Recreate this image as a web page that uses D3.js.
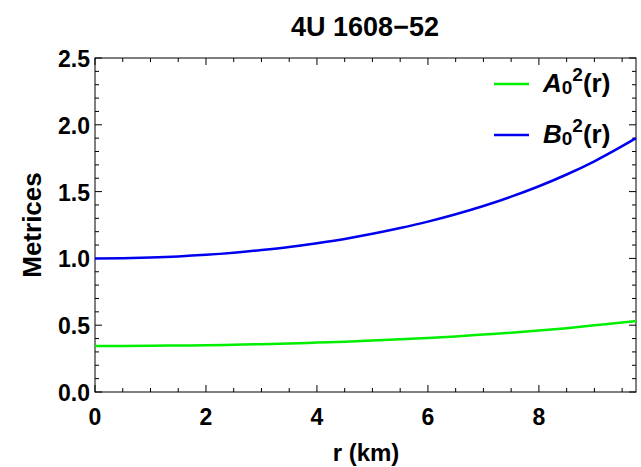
<!DOCTYPE html>
<meta charset="utf-8">
<style>
    body { margin: 0; background: #fff; }
    text { font-family: "Liberation Sans", Arial, sans-serif; font-weight: bold; fill: #000; }
    .frame { fill: none; stroke: #000; stroke-width: 1; }
    .tick line { stroke: #000; }
</style>
<svg width="641" height="467"></svg>
<script src="https://d3js.org/d3.v7.min.js"></script>
<script>
    // values
    var radius = [0, 0.5, 1, 1.5, 2, 2.5, 3, 3.5, 4, 4.5, 5, 5.5, 6, 6.5, 7, 7.5, 8, 8.5, 9, 9.5, 9.75];
    var metricA = [0.344, 0.345, 0.346, 0.348, 0.350, 0.354, 0.358, 0.363, 0.370, 0.377, 0.385, 0.394, 0.404, 0.416, 0.430, 0.444, 0.460, 0.478, 0.499, 0.520, 0.530];
    var metricB = [1.000, 1.002, 1.007, 1.015, 1.027, 1.043, 1.063, 1.086, 1.114, 1.146, 1.184, 1.227, 1.275, 1.330, 1.392, 1.462, 1.540, 1.628, 1.727, 1.840, 1.900];
    var xTicks = [0, 2, 4, 6, 8];
    var yTicks = [0, 0.5, 1, 1.5, 2, 2.5];

    var svg = d3.select("svg");
    var pLeft = 95, pRight = 636, pTop = 58, pBottom = 392;

    var x = d3.scaleLinear().domain([0, 9.75]).range([pLeft, pRight]);
    var y = d3.scaleLinear().domain([0, 2.5]).range([pBottom, pTop]);

    var xMinor = d3.range(0, 9.76, 0.5).filter(function(v) { return xTicks.indexOf(v) < 0; });
    var yMinor = d3.range(0, 2.51, 0.1).map(function(v) { return +v.toFixed(1); })
        .filter(function(v) { return Math.round(v * 10) % 5 != 0; });

    // ticks pointing inward on all four sides
    function ticks(g, scale, vals, len, side) {
        vals.forEach(function(v) {
            var p = scale(v);
            if (side == "bottom") g.append("line").attr("x1", p).attr("x2", p).attr("y1", pBottom).attr("y2", pBottom - len);
            if (side == "top") g.append("line").attr("x1", p).attr("x2", p).attr("y1", pTop).attr("y2", pTop + len);
            if (side == "left") g.append("line").attr("y1", p).attr("y2", p).attr("x1", pLeft).attr("x2", pLeft + len);
            if (side == "right") g.append("line").attr("y1", p).attr("y2", p).attr("x1", pRight).attr("x2", pRight - len);
        });
    }
    var tg = svg.append("g").attr("class", "tick").attr("stroke", "#000").attr("stroke-width", 1);
    ["bottom", "top"].forEach(function(s) {
        ticks(tg, x, xTicks, 7, s);
        ticks(tg, x, xMinor, 4, s);
    });
    ["left", "right"].forEach(function(s) {
        ticks(tg, y, yTicks, 7, s);
        ticks(tg, y, yMinor, 4, s);
    });

    svg.append("rect").attr("class", "frame")
        .attr("x", pLeft).attr("y", pTop)
        .attr("width", pRight - pLeft).attr("height", pBottom - pTop);

    // tick labels
    svg.append("g").selectAll("text").data(xTicks).enter().append("text")
        .attr("x", function(d) { return x(d); })
        .attr("y", 425)
        .attr("text-anchor", "middle")
        .attr("font-size", 23)
        .text(function(d) { return d; });

    svg.append("g").selectAll("text").data(yTicks).enter().append("text")
        .attr("x", 90)
        .attr("y", function(d) { return y(d) + 9; })
        .attr("text-anchor", "end")
        .attr("font-size", 23)
        .text(function(d) { return d.toFixed(1); });

    // curves
    var line = d3.line()
        .x(function(d, i) { return x(radius[i]); })
        .y(function(d) { return y(d); })
        .curve(d3.curveMonotoneX);

    svg.append("path").attr("d", line(metricA))
        .attr("fill", "none").attr("stroke", "#00ee00").attr("stroke-width", 2.5);
    svg.append("path").attr("d", line(metricB))
        .attr("fill", "none").attr("stroke", "#0000ee").attr("stroke-width", 2.5);

    // titles
    svg.append("text").attr("x", 365).attr("y", 36).attr("text-anchor", "middle")
        .attr("font-size", 27).text("4U 1608\u221252");
    svg.append("text").attr("x", 366).attr("y", 461).attr("text-anchor", "middle")
        .attr("font-size", 24).text("r (km)");
    svg.append("text").attr("transform", "translate(41,225) rotate(-90)")
        .attr("text-anchor", "middle").attr("font-size", 26).text("Metrices");

    // legend
    var legend = [
        {name: "A", color: "#00ee00", y: 84},
        {name: "B", color: "#0000ee", y: 135}
    ];
    legend.forEach(function(l) {
        svg.append("line").attr("x1", 494).attr("x2", 529)
            .attr("y1", l.y).attr("y2", l.y)
            .attr("stroke", l.color).attr("stroke-width", 2.5);
        var t = svg.append("text").attr("x", 543).attr("y", l.y + 8).attr("font-size", 26);
        t.append("tspan").attr("font-style", "italic").text(l.name);
        t.append("tspan").attr("font-size", 19).attr("dy", 2).text("0");
        t.append("tspan").attr("font-size", 19).attr("dy", -13).text("2");
        t.append("tspan").attr("dy", 11).text("(r)");
    });
</script>
